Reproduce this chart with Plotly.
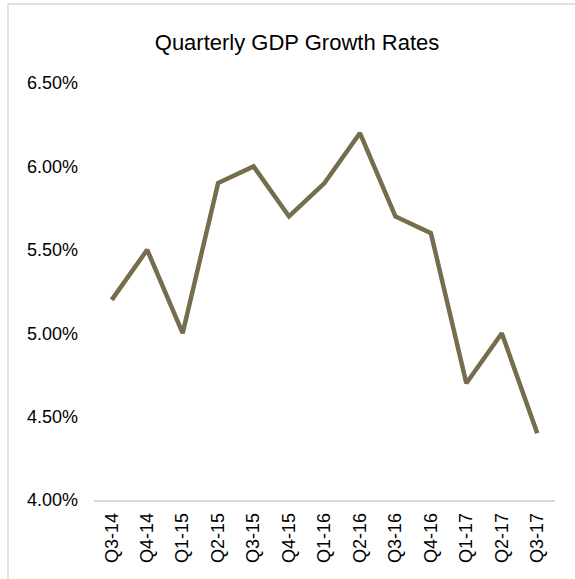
import plotly.graph_objects as go

quarters = ["Q3-14", "Q4-14", "Q1-15", "Q2-15", "Q3-15", "Q4-15", "Q1-16",
            "Q2-16", "Q3-16", "Q4-16", "Q1-17", "Q2-17", "Q3-17"]
gdp_growth = [0.052, 0.055, 0.050, 0.059, 0.060, 0.057, 0.059,
              0.062, 0.057, 0.056, 0.047, 0.050, 0.044]
y_ticks = [0.040, 0.045, 0.050, 0.055, 0.060, 0.065]

W, H = 575, 579
ml, mr, mt, mb = 94, 20, 83, 79
pw, ph = W - ml - mr, H - mt - mb

fig = go.Figure()
fig.add_trace(go.Scatter(
    x=quarters, y=gdp_growth, mode="lines",
    line=dict(color="#756D4C", width=4.5),
    hoverinfo="x+y",
))

def px_x(p):
    return (p - ml) / pw

def px_y(p):
    return (H - mb - p) / ph

fig.add_shape(type="rect", xref="paper", yref="paper",
              x0=px_x(8), x1=px_x(590), y0=px_y(600), y1=px_y(4),
              line=dict(color="#D9D9D9", width=1.5), fillcolor="rgba(0,0,0,0)",
              layer="below")

fig.update_layout(
    width=W, height=H,
    margin=dict(l=ml, r=mr, t=mt, b=mb),
    paper_bgcolor="white", plot_bgcolor="white",
    font=dict(family="Liberation Sans, Arial, sans-serif", color="#000000", size=18),
    title=dict(text="Quarterly GDP Growth Rates", x=297 / W, xanchor="center",
               y=1 - 42 / H, yanchor="middle",
               font=dict(size=22, color="#000000")),
    showlegend=False,
    xaxis=dict(
        type="category", tickangle=-90, showgrid=False,
        showline=True, linecolor="#D9D9D9", linewidth=1.5,
        ticks="", tickfont=dict(size=18), range=[-0.5, 12.5],
        ticklabelstandoff=4,
    ),
    yaxis=dict(
        range=[0.040, 0.065], tickvals=y_ticks, tickformat=".2%",
        showgrid=False, zeroline=False, showline=False, ticks="",
        tickfont=dict(size=18), ticklabelstandoff=15,
    ),
)

fig.write_html("out.html", config={"displayModeBar": False},
               post_script="document.body.style.margin='0';")
